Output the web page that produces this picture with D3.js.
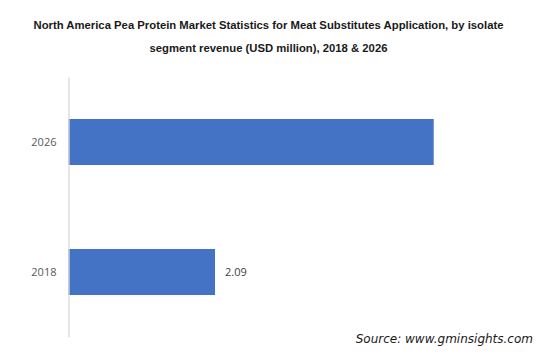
<!DOCTYPE html>
<html>
<head>
<meta charset="utf-8">
<script src="https://cdn.jsdelivr.net/npm/d3@7"></script>
<style>
  body { margin: 0; background: #fff; }
  svg { display: block; }
</style>
</head>
<body>
<svg id="chart"></svg>
<script>
// data
let years = ['2026', '2018']
let revenue = [5.21, 2.09]
let shownLabels = ['', '2.09']   // only the 2018 bar carries a label
let titleLines = [
    'North America Pea Protein Market Statistics for Meat Substitutes Application, by isolate',
    'segment revenue (USD million), 2018 & 2026'
]

let width = 546,
    height = 358,
    margin = {top: 77, left: 68.5, bottom: 21, right: 20}

let svg = d3.select('#chart')
    .attr('width', width)
    .attr('height', height)

svg.selectAll('text.title')
    .data(titleLines)
  .enter().append('text')
    .attr('class', 'title')
    .attr('x', 268.5)
    .attr('y', (d, i) => 29 + i * 23)
    .attr('text-anchor', 'middle')
    .style('font-family', '"Liberation Sans", Arial, sans-serif')
    .style('font-weight', 'bold')
    .style('font-size', '11.3px')
    .style('fill', '#1a1a1a')
    .text(d => d)

let x = d3.scaleLinear()
    .domain([0, 5.21])
    .range([margin.left, 433.7])

let y = d3.scaleBand()
    .domain(years)
    .range([margin.top, height - margin.bottom])
    .paddingInner(0.646)
    .paddingOuter(0.323)

let data = years.map((yr, i) => ({year: yr, value: revenue[i], label: shownLabels[i]}))

svg.selectAll('rect.bar')
    .data(data)
  .enter().append('rect')
    .attr('class', 'bar')
    .attr('x', x(0))
    .attr('y', d => y(d.year))
    .attr('width', d => x(d.value) - x(0))
    .attr('height', y.bandwidth())
    .attr('fill', '#4472c4')

svg.selectAll('text.val')
    .data(data.filter(d => d.label))
  .enter().append('text')
    .attr('class', 'val')
    .attr('x', d => x(d.value) + 10)
    .attr('y', d => y(d.year) + y.bandwidth() / 2)
    .attr('dy', '0.35em')
    .style('font-family', '"Open Sans", sans-serif')
    .style('font-size', '11px')
    .style('fill', '#404040')
    .text(d => d.label)

let yAxis = svg.append('g')
    .attr('transform', `translate(${margin.left},0)`)
    .call(d3.axisLeft(y).tickSize(0).tickPadding(12))

yAxis.select('.domain')
    .attr('stroke', '#d9d9d9')
    .attr('stroke-width', 1.3)
yAxis.selectAll('text')
    .style('font-family', '"Open Sans", sans-serif')
    .style('font-size', '11px')
    .style('fill', '#595959')

svg.append('text')
    .attr('x', 533)
    .attr('y', 343)
    .attr('text-anchor', 'end')
    .style('font-family', '"DejaVu Sans", Verdana, sans-serif')
    .style('font-style', 'italic')
    .style('font-size', '12px')
    .style('fill', '#1a1a1a')
    .text('Source: www.gminsights.com')
</script>
</body>
</html>
